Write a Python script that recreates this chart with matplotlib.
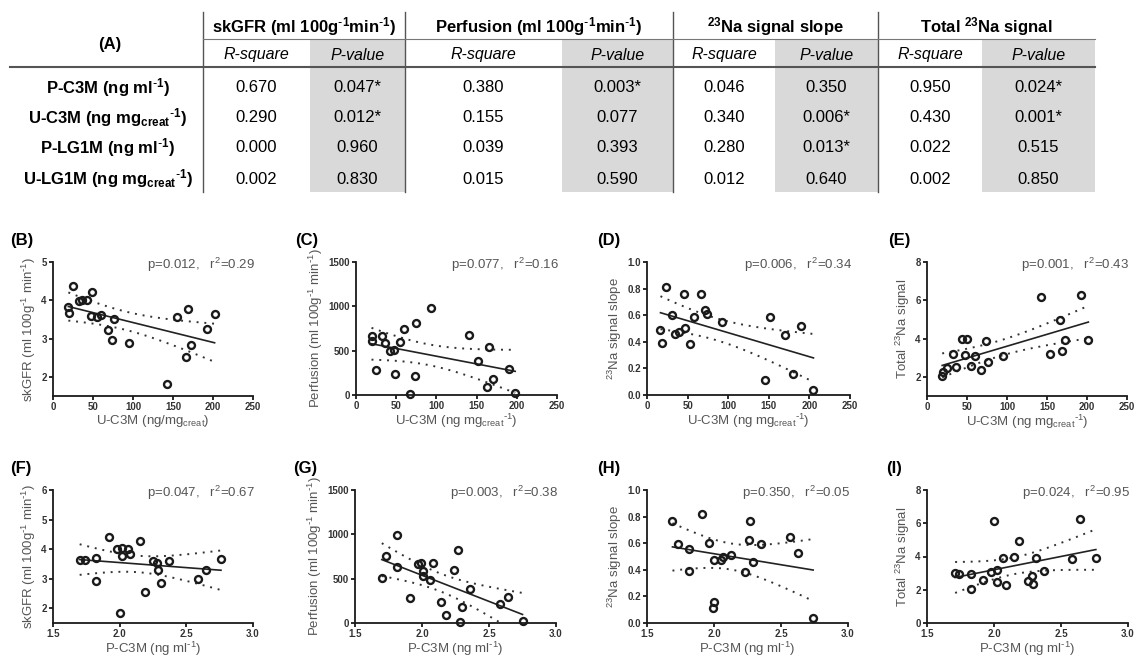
import numpy as np
import matplotlib.pyplot as plt
from matplotlib.patches import Rectangle

plt.rcParams['font.family'] = ['Liberation Sans', 'DejaVu Sans']
plt.rcParams['mathtext.default'] = 'regular'

# ---------------- table (A) ----------------
OUTCOMES = ['skGFR (ml 100g$^{\\text{-}1}$min$^{\\text{-}1}$)',
            'Perfusion (ml 100g$^{\\text{-}1}$min$^{\\text{-}1}$)',
            '$^{23}$Na signal slope', 'Total $^{23}$Na signal']
MARKERS = ['P-C3M (ng ml$^{\\text{-}1}$)', 'U-C3M (ng mg$_{creat}$$^{\\text{-}1}$)',
           'P-LG1M (ng ml$^{\\text{-}1}$)', 'U-LG1M (ng mg$_{creat}$$^{\\text{-}1}$)']
R_SQUARE = [[0.670, 0.380, 0.046, 0.950],
            [0.290, 0.155, 0.340, 0.430],
            [0.000, 0.039, 0.280, 0.022],
            [0.002, 0.015, 0.012, 0.002]]
P_VALUE = [[0.047, 0.003, 0.350, 0.024],
           [0.012, 0.077, 0.006, 0.001],
           [0.960, 0.393, 0.013, 0.515],
           [0.830, 0.590, 0.640, 0.850]]

# r-square printed on the scatter panels
TOP_R2 = ['0.29', '0.16', '0.34', '0.43']
BOTTOM_R2 = ['0.67', '0.38', '0.05', '0.95']

# ---------------- scatter data ----------------
# U-C3M vs outcomes (B-E)
b_x = [25.4, 19.2, 20, 32.5, 36.7, 42.9, 48.3, 47, 54.6, 60, 75.8, 68.3, 74.2, 94.6,
       143, 154.6, 168.8, 165.8, 172.5, 193, 202]
b_y = [4.38, 3.82, 3.67, 3.97, 4.02, 4.0, 4.22, 3.6, 3.57, 3.62, 3.51, 3.23, 2.97, 2.88,
       1.82, 3.57, 3.76, 2.52, 2.83, 3.24, 3.63]

c_x = [19.3, 20, 32.4, 25.4, 35.7, 41.8, 46.7, 54.5, 48, 59.4, 74.6, 73.4, 67.6, 93,
       140, 152, 166, 170, 163, 190, 198]
c_y = [663, 614, 663, 280, 583, 492, 508, 595, 235, 750, 814, 212, 8, 985,
       674, 383, 542, 182, 91, 295, 19]

d_x = [24, 45, 66, 31, 16.6, 18, 34, 40, 46.5, 58, 53, 72, 73.4, 92.5,
       152, 170, 190, 145, 180, 205]
d_y = [0.81, 0.76, 0.76, 0.60, 0.49, 0.39, 0.46, 0.47, 0.505, 0.59, 0.38, 0.64, 0.61, 0.55,
       0.59, 0.45, 0.52, 0.11, 0.16, 0.04]

e_x = [33, 43.6, 49.4, 47.7, 60.6, 74.3, 76, 94.6, 142, 154, 168.5, 166, 172, 192, 201.7,
       19, 20, 25, 36, 55, 68]
e_y = [3.22, 3.98, 3.98, 3.14, 3.09, 3.88, 2.8, 3.09, 6.16, 3.19, 3.33, 4.95, 3.95, 6.26, 3.95,
       2.04, 2.26, 2.44, 2.5, 2.58, 2.34]

# P-C3M vs outcomes (F-I)
f_x = [1.70, 1.74, 1.82, 1.82, 1.92, 1.98, 2.00, 2.02, 2.02, 2.06, 2.08, 2.15, 2.19, 2.25,
       2.28, 2.29, 2.31, 2.37, 2.59, 2.65, 2.76]
f_y = [3.62, 3.62, 3.70, 2.91, 4.41, 4.0, 1.85, 3.78, 4.04, 4.02, 3.84, 4.26, 2.55, 3.61,
       3.54, 3.28, 2.85, 3.6, 3.0, 3.28, 3.65]

g_x = [1.70, 1.73, 1.81, 1.81, 1.91, 1.97, 1.99, 2.01, 2.01, 2.06, 2.08, 2.14, 2.18, 2.24,
       2.27, 2.28, 2.30, 2.36, 2.58, 2.64, 2.75]
g_y = [502, 757, 994, 626, 281, 664, 682, 592, 532, 487, 675, 240, 94, 600,
       825, 8, 180, 383, 210, 292, 19]

h_x = [1.69, 1.73, 1.81, 1.81, 1.91, 1.96, 1.99, 2.00, 2.00, 2.05, 2.07, 2.13, 2.23, 2.27,
       2.26, 2.29, 2.35, 2.57, 2.63, 2.74]
h_y = [0.77, 0.595, 0.56, 0.39, 0.82, 0.605, 0.11, 0.16, 0.47, 0.475, 0.50, 0.51, 0.38, 0.77,
       0.625, 0.455, 0.595, 0.65, 0.525, 0.04]

i_x = [1.71, 1.74, 1.83, 1.83, 1.92, 1.98, 2.00, 2.02, 2.02, 2.07, 2.09, 2.15, 2.19, 2.25,
       2.28, 2.29, 2.31, 2.37, 2.58, 2.64, 2.76]
i_y = [3.0, 2.96, 2.96, 2.04, 2.58, 3.06, 6.16, 3.2, 2.44, 3.9, 2.26, 3.94, 4.94, 2.5,
       2.8, 2.34, 3.9, 3.1, 3.86, 6.26, 3.9]

T95 = {18: 2.101, 19: 2.093}

W, H = 1137, 659
GREY_TXT = '#555555'


def pos(left, right, top, bottom):
    return [left / W, 1 - bottom / H, (right - left) / W, (bottom - top) / H]


def fit_band(x, y):
    x = np.asarray(x, float)
    y = np.asarray(y, float)
    n = len(x)
    slope, icpt = np.polyfit(x, y, 1)
    xs = np.linspace(x.min(), x.max(), 60)
    yhat = slope * xs + icpt
    s = np.sqrt(np.sum((y - (slope * x + icpt)) ** 2) / (n - 2))
    sxx = np.sum((x - x.mean()) ** 2)
    half = T95[n - 2] * s * np.sqrt(1 / n + (xs - x.mean()) ** 2 / sxx)
    return xs, yhat, yhat - half, yhat + half


fig = plt.figure(figsize=(11.37, 6.59), dpi=100)

# ---- table drawn in pixel coordinates ----
tab = fig.add_axes([0, 0, 1, 1])
tab.set_xlim(0, W)
tab.set_ylim(H, 0)
tab.axis('off')

group_edges = [203, 405, 673, 878, 1095]
splits = [310, 562, 775, 982]
row_y = [88, 118, 148, 179]

for k in range(4):
    tab.add_patch(Rectangle((splits[k], 39), group_edges[k + 1] - splits[k], 153,
                            facecolor='#d9d9d9', edgecolor='none'))
for xe in group_edges[:-1]:
    tab.plot([xe, xe], [12, 192], color='#555555', lw=1.0)
tab.plot([203, 1095], [39, 39], color='#777777', lw=0.8)
tab.plot([10, 1095], [67, 67], color='#555555', lw=1.5)

tab.text(110, 45, '(A)', ha='center', va='center', fontsize=12, fontweight='bold')
for k, name in enumerate(OUTCOMES):
    cx = (group_edges[k] + group_edges[k + 1]) / 2
    tab.text(cx, 27, name, ha='center', va='center', fontsize=12, fontweight='bold')
    rx = (group_edges[k] + splits[k]) / 2
    px = (splits[k] + group_edges[k + 1]) / 2
    tab.text(rx, 55, 'R-square', ha='center', va='center', fontsize=11.5, style='italic')
    tab.text(px, 55, 'P-value', ha='center', va='center', fontsize=11.5, style='italic')
    for r in range(4):
        tab.text(rx, row_y[r], '%.3f' % R_SQUARE[r][k], ha='center', va='center', fontsize=12)
        pv = P_VALUE[r][k]
        tab.text(px, row_y[r], '%.3f' % pv + ('*' if pv < 0.05 else ''),
                 ha='center', va='center', fontsize=12)
for r, name in enumerate(MARKERS):
    tab.text(108, row_y[r], name, ha='center', va='center', fontsize=12, fontweight='bold')

# ---- scatter panels ----
ylab_gfr = 'skGFR (ml 100g$^{\\text{-}1}$ min$^{\\text{-}1}$)'
ylab_perf = 'Perfusion (ml 100g$^{\\text{-}1}$ min$^{\\text{-}1}$)'
ylab_slope = '$^{23}$Na signal slope'
ylab_total = 'Total $^{23}$Na signal'
xlab_u = 'U-C3M (ng mg$_{creat}$$^{\\text{-}1}$)'
xlab_p = 'P-C3M (ng ml$^{\\text{-}1}$)'

panels = [
    ('(B)', b_x, b_y, pos(53, 253, 262, 396), (1.5, 5), [2, 3, 4, 5], '%d', ylab_gfr,
     'U-C3M (ng/mg$_{creat}$)', 'U', 0, 10),
    ('(C)', c_x, c_y, pos(356, 557, 262, 395), (0, 1500), [0, 500, 1000, 1500], '%d', ylab_perf,
     xlab_u, 'U', 1, 295),
    ('(D)', d_x, d_y, pos(647, 850, 262, 395), (0, 1), np.arange(0, 1.01, 0.2), '%.1f', ylab_slope,
     xlab_u, 'U', 2, 597),
    ('(E)', e_x, e_y, pos(927, 1127, 262, 396), (1, 8), [2, 4, 6, 8], '%d', ylab_total,
     xlab_u, 'U', 3, 888),
    ('(F)', f_x, f_y, pos(53, 253, 490, 623), (1.5, 6), [2, 3, 4, 5, 6], '%d', ylab_gfr,
     xlab_p, 'P', 0, 10),
    ('(G)', g_x, g_y, pos(355, 556, 490, 623), (0, 1500), [0, 500, 1000, 1500], '%d', ylab_perf,
     xlab_p, 'P', 1, 293),
    ('(H)', h_x, h_y, pos(647, 848, 490, 623), (0, 1), np.arange(0, 1.01, 0.2), '%.1f', ylab_slope,
     xlab_p, 'P', 2, 597),
    ('(I)', i_x, i_y, pos(927, 1128, 490, 623), (0, 8), [0, 2, 4, 6, 8], '%d', ylab_total,
     xlab_p, 'P', 3, 886),
]

for label, x, y, rect, ylim, yticks, yfmt, ylab, xlab, kind, k, lab_x in panels:
    ax = fig.add_axes(rect)
    xs, yhat, lo, hi = fit_band(x, y)
    ax.plot(xs, yhat, color='#222222', lw=1.2)
    ax.plot(xs, lo, color='#333333', lw=1.4, ls=(0, (1, 3)))
    ax.plot(xs, hi, color='#333333', lw=1.4, ls=(0, (1, 3)))
    ax.plot(x, y, 'o', ms=5, mfc='none', mec='#1a1a1a', mew=1.7, clip_on=False, zorder=3)

    if kind == 'U':
        ax.set_xlim(0, 250)
        ax.set_xticks([0, 50, 100, 150, 200, 250])
        ax.set_xticklabels(['%d' % v for v in ax.get_xticks()])
        row = 1
        r2 = TOP_R2[k]
        lab_y = 241
    else:
        ax.set_xlim(1.5, 3.0)
        ax.set_xticks([1.5, 2.0, 2.5, 3.0])
        ax.set_xticklabels(['%.1f' % v for v in ax.get_xticks()])
        row = 0
        r2 = BOTTOM_R2[k]
        lab_y = 468
    ax.set_ylim(*ylim)
    ax.set_yticks(yticks)
    ax.set_yticklabels([yfmt % v for v in yticks])

    for side in ['top', 'right']:
        ax.spines[side].set_visible(False)
    for side in ['left', 'bottom']:
        ax.spines[side].set_linewidth(1.3)
        ax.spines[side].set_color('#1a1a1a')
    ax.tick_params(direction='out', length=3, width=1.3, pad=1.5, labelsize=7,
                   colors='#1a1a1a')
    for t in ax.get_xticklabels() + ax.get_yticklabels():
        t.set_fontweight('bold')
        t.set_color('#333333')
    ax.set_xlabel(xlab, fontsize=9.5, color=GREY_TXT, labelpad=0.5)
    ax.set_ylabel(ylab, fontsize=9.5, color=GREY_TXT, labelpad=2)

    ax.text(1.01, 0.98, 'p=%.3f,   r$^{2}$=%s' % (P_VALUE[row][k], r2),
            transform=ax.transAxes, ha='right', va='center', fontsize=9.5, color=GREY_TXT)
    tab.text(lab_x, lab_y, label, ha='left', va='center', fontsize=12, fontweight='bold')

fig.savefig('out.png', dpi=100)
